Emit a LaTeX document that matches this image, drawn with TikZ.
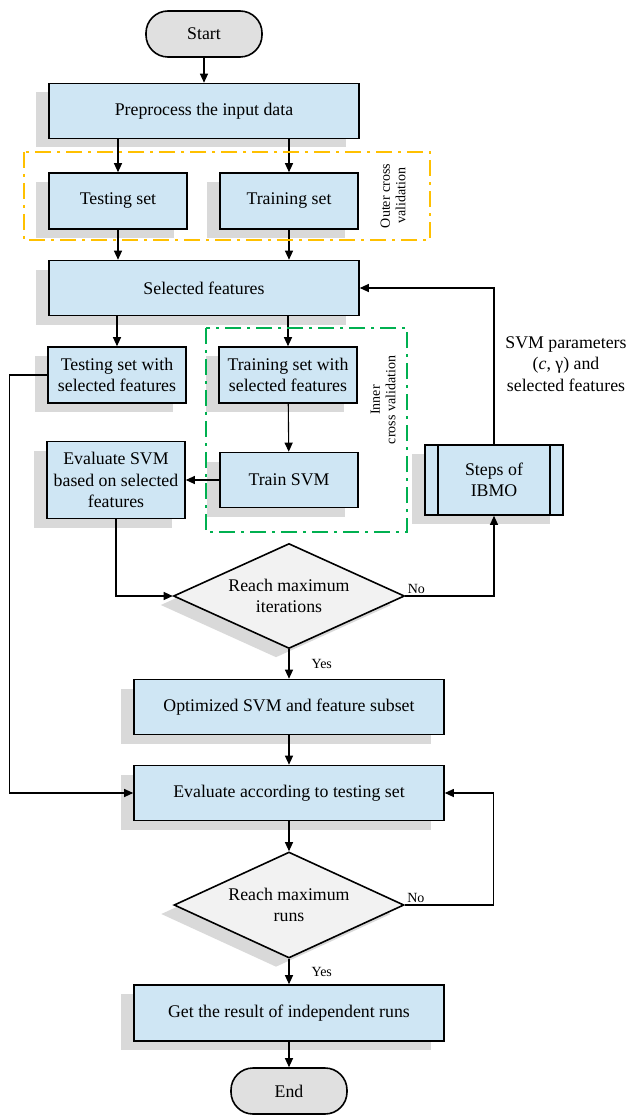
\documentclass[tikz,border=0pt]{standalone}
\usepackage{fontspec}
\setmainfont{Liberation Serif}
\usetikzlibrary{arrows.meta,shapes.geometric,shadows}
\definecolor{boxblue}{RGB}{207,230,244}
\definecolor{termgray}{RGB}{224,224,224}
\definecolor{decgray}{RGB}{242,242,242}
\definecolor{shadowgray}{RGB}{217,217,217}
\definecolor{cvorange}{RGB}{255,192,0}
\definecolor{cvgreen}{RGB}{0,176,80}
\begin{document}
\begin{tikzpicture}[x=1pt, y=-1pt, >={Triangle[length=9pt,width=8pt]}, line width=1.1pt,
    every node/.style={font=\fontsize{17.8}{21.5}\selectfont},
    boxshadow/.style={drop shadow={shadow xshift=-13pt, shadow yshift=-9pt, fill=shadowgray, opacity=1}},
    proc/.style={draw, line width=1.6pt, fill=boxblue, align=center, inner sep=2pt, boxshadow},
    wide/.style={proc, minimum width=310pt, minimum height=55pt},
    small/.style={proc, minimum width=138pt, minimum height=56pt},
    term/.style={draw, line width=1.6pt, fill=termgray, rounded corners=22pt, minimum width=116pt, minimum height=46pt},
    decision/.style={draw, diamond, line width=1.6pt, fill=decgray, align=center, inner sep=0pt, aspect=2.2,
        minimum width=231pt, minimum height=105pt, boxshadow},
    lbl/.style={font=\fontsize{14}{16}\selectfont, inner sep=2pt},
    cvtext/.style={font=\fontsize{14}{15.5}\selectfont, align=center, rotate=90},
    outerbox/.style={draw=cvorange, line width=2pt, dash pattern=on 16pt off 6pt on 3pt off 6pt},
    innerbox/.style={draw=cvgreen, line width=2pt, dash pattern=on 16pt off 6pt on 3pt off 6pt}]
        \useasboundingbox (0,0) rectangle (630,1115);

        \node[term] (start) at (204,34) {Start};
        \node[wide] (pre) at (204,111) {Preprocess the input data};
        \node[small] (test) at (118,201) {Testing set};
        \node[small] (train) at (289,201) {Training set};
        \node[wide] (sel) at (204,288) {Selected features};
        \node[small] (testsel) at (117,375) {Testing set with\\selected features};
        \node[small] (trainsel) at (288,375) {Training set with\\selected features};
        \node[small, minimum height=55pt] (trainsvm) at (289,480) {Train SVM};
        \node[small, minimum height=77pt] (evalsvm) at (116,480) {Evaluate SVM\\based on selected\\features};
        \node[small, minimum height=70pt] (ibmo) at (494,480) {Steps of\\IBMO};
        \draw[line width=1.6pt] ([xshift=14pt]ibmo.north west) -- ([xshift=14pt]ibmo.south west);
        \draw[line width=1.6pt] ([xshift=-14pt]ibmo.north east) -- ([xshift=-14pt]ibmo.south east);
        \node[decision] (iter) at (289,596) {Reach maximum\\iterations};
        \node[wide] (opt) at (289,707) {Optimized SVM and feature subset};
        \node[wide] (evalts) at (289,793) {Evaluate according to testing set};
        \node[decision, minimum width=230pt, minimum height=106pt] (runs) at (289,905) {Reach maximum\\runs};
        \node[wide, minimum height=56pt] (result) at (289,1013) {Get the result of independent runs};
        \node[term] (end) at (289,1091) {End};
        \node[align=center] (svmpar) at (566,364) {SVM parameters\\(\textit{c}, γ) and\\selected features};

        \draw[->] (start)--(pre);
        \draw[->] (pre.south -| test.north)--(test.north);
        \draw[->] (pre.south -| train.north)--(train.north);
        \draw[->] (test.south)--(test.south |- sel.north);
        \draw[->] (train.south)--(train.south |- sel.north);
        \draw[->] (sel.south -| testsel.north)--(testsel.north);
        \draw[->] (sel.south -| trainsel.north)--(trainsel.north);
        \draw[->] (trainsel)--(trainsvm);
        \draw[->] (trainsvm)--(evalsvm);
        \draw[->] (evalsvm.south) |- (iter.west);
        \draw[->] (iter.east) node[lbl, above right] {No} -| (ibmo.south);
        \draw[->] (ibmo.north) |- (sel.east);
        \draw[->] (iter.south) -- node[lbl, right=20pt] {Yes} (opt.north);
        \draw[->] (opt)--(evalts);
        \draw[->] (testsel.west) -- ++(-38,0) |- (evalts.west);
        \draw[->] (evalts)--(runs);
        \draw[->] (runs.east) node[lbl, above right] {No} -- ++(89,0) |- (evalts.east);
        \draw[->] (runs.south) -- node[lbl, right=20pt] {Yes} (result.north);
        \draw[->] (result)--(end);

        \draw[outerbox] (24,152) rectangle (430,240);
        \node[cvtext] (outerlbl) at (393,196) {Outer cross\\validation};
        \draw[innerbox] (206,328) rectangle (407,532);
        \node[cvtext] (innerlbl) at (383,400) {Inner\\cross validation};
    \end{tikzpicture}
\end{document}
